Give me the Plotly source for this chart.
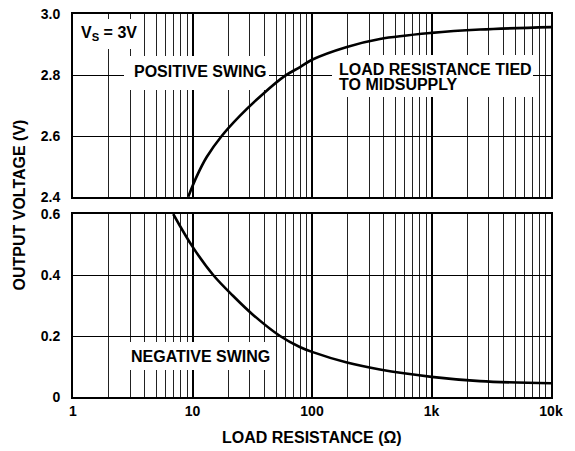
import plotly.graph_objects as go

# Output voltage swing vs. load resistance, VS = 3V, load tied to midsupply
pos_load = [9.22, 10.8, 13.15, 17.55, 24.9, 38.9, 59.3, 79.4, 100, 196, 370, 1000, 2546, 10000]
pos_vout = [2.401, 2.466, 2.531, 2.600, 2.666, 2.738, 2.797, 2.826, 2.850, 2.892, 2.918, 2.938, 2.949, 2.957]

neg_load = [6.9, 10, 14.9, 21.8, 32, 54, 79, 100, 196, 370, 1000, 2546, 10000]
neg_vout = [0.60, 0.493, 0.40, 0.332, 0.27, 0.20, 0.164, 0.148, 0.113, 0.090, 0.066, 0.052, 0.045]

decade_vals = [1, 10, 100, 1000, 10000]
decade_text = ["1", "10", "100", "1k", "10k"]
minor_vals = [m * 10 ** e for e in range(4) for m in range(2, 10)]

top_vals = [2.4, 2.6, 2.8, 3.0]
top_text = ["2.4", "2.6", "2.8", "3.0"]
bot_vals = [0, 0.2, 0.4, 0.6]
bot_text = ["0", "0.2", "0.4", "0.6"]

W, H = 575, 451
ML, MR, MT, MB = 73, 24, 14, 54
PW, PH = W - ML - MR, H - MT - MB

FONT = "Liberation Sans, Arial, sans-serif"


def px_x(px):
    return (px - ML) / PW


def px_to_load(px):
    # pixel column -> resistance on the 1..10k log axis
    return 10 ** (4 * (px - ML) / PW)


def top_y(py):
    return (197 - py) / 183


def bot_y(py):
    return (397 - py) / 183


fig = go.Figure()
fig.add_trace(go.Scatter(
    x=pos_load, y=pos_vout, mode="lines", xaxis="x", yaxis="y",
    line=dict(color="black", width=2.6, shape="spline", smoothing=1.0),
    showlegend=False,
))
fig.add_trace(go.Scatter(
    x=neg_load, y=neg_vout, mode="lines", xaxis="x2", yaxis="y2",
    line=dict(color="black", width=2.6, shape="spline", smoothing=1.0),
    showlegend=False,
))

xcommon = dict(
    type="log", range=[0, 4], tickmode="array", tickvals=decade_vals,
    ticktext=decade_text, showgrid=True, gridcolor="black", gridwidth=2,
    minor=dict(tickmode="array", tickvals=minor_vals, showgrid=True,
               gridcolor="#222222", gridwidth=1.2, ticks=""),
    showline=True, mirror=True, linecolor="black", linewidth=2,
    zeroline=False, ticks="", automargin=False,
    tickfont=dict(family=FONT, size=14, color="black", weight="bold"),
)
ycommon = dict(
    tickmode="array", showgrid=True, gridcolor="black", gridwidth=1,
    showline=True, mirror=True, linecolor="black", linewidth=2,
    zeroline=False, ticks="", ticklabelstandoff=8, automargin=False,
    tickfont=dict(family=FONT, size=14, color="black", weight="bold"),
)

fig.update_layout(
    width=W, height=H,
    margin=dict(l=ML, r=MR, t=MT, b=MB, autoexpand=False),
    paper_bgcolor="white", plot_bgcolor="white",
    xaxis=dict(xcommon, anchor="y", showticklabels=False),
    yaxis=dict(ycommon, domain=[(397 - 197) / PH, 1], range=[2.4, 3.0],
               tickvals=top_vals, ticktext=top_text, anchor="x"),
    xaxis2=dict(xcommon, anchor="y2", showticklabels=True),
    yaxis2=dict(ycommon, domain=[0, (397 - 214) / PH], range=[0, 0.6],
                tickvals=bot_vals, ticktext=bot_text, anchor="x2"),
)


def top_v(py):
    return 3.0 - (py - 14) / 305


def bot_v(py):
    return 0.6 - (py - 214) / 305


# white label backgrounds sit above the grid but under the curves
boxes = [
    ("x", "y", 74, 143, top_v(19), top_v(49)),
    ("x", "y", 124, 269, top_v(56), top_v(90)),
    ("x", "y", 332, 533, top_v(55), top_v(97)),
    ("x2", "y2", 125, 274, bot_v(342), bot_v(370)),
]
for xr, yr, x0, x1, v0, v1 in boxes:
    fig.add_shape(type="rect", xref=xr, yref=yr,
                  x0=px_to_load(x0), x1=px_to_load(x1), y0=v1, y1=v0,
                  fillcolor="white", line=dict(width=0), layer="between")

lab = dict(family=FONT, size=16, color="black", weight="bold")
notes = [
    ("V<sub>S</sub> = 3V", "x domain", "y domain", px_x(79), top_y(33), "left"),
    ("POSITIVE SWING", "x domain", "y domain", px_x(200), top_y(71), "center"),
    ("LOAD RESISTANCE TIED", "x domain", "y domain", px_x(337), top_y(69), "left"),
    ("TO MIDSUPPLY", "x domain", "y domain", px_x(337), top_y(84.5), "left"),
    ("NEGATIVE SWING", "x2 domain", "y2 domain", px_x(200.5), bot_y(356), "center"),
]
for txt, xr, yr, x, y, xa in notes:
    fig.add_annotation(text=txt, xref=xr, yref=yr, x=x, y=y, xanchor=xa,
                       yanchor="middle", showarrow=False, font=lab)

fig.add_annotation(text="OUTPUT VOLTAGE (V)", xref="paper", yref="paper",
                   x=(19 - ML) / PW, y=0.5, textangle=-90, showarrow=False,
                   xanchor="center", yanchor="middle", font=lab)
fig.add_annotation(text="LOAD RESISTANCE (Ω)", xref="paper", yref="paper",
                   x=0.5, y=(397 - 437.5) / PH, showarrow=False,
                   xanchor="center", yanchor="middle", font=lab)

fig.write_html("out.html")
